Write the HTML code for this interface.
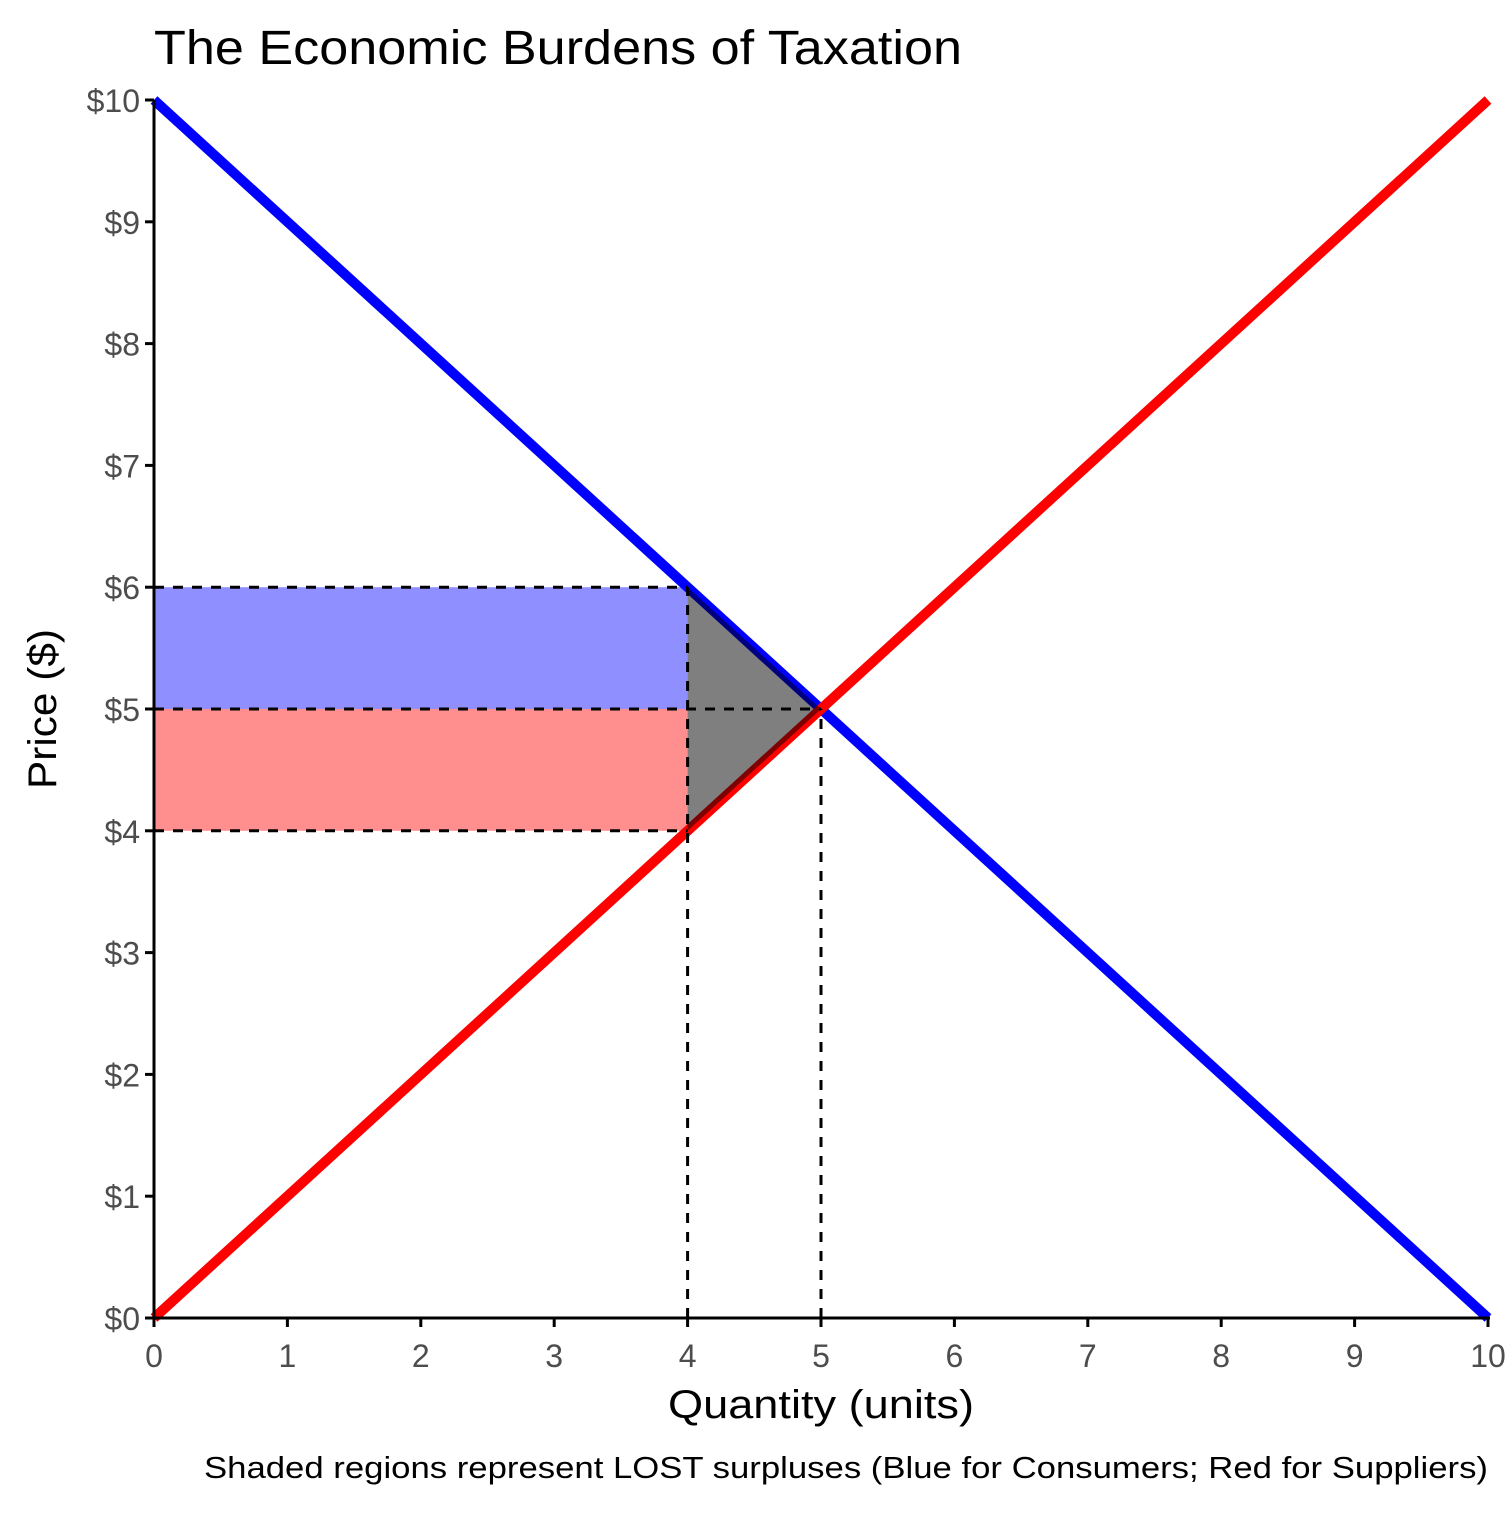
<!DOCTYPE html>
<html><head><meta charset="utf-8"><style>
body{margin:0;background:#fff}
svg text{font-family:"Liberation Sans",sans-serif}
</style></head><body>
<svg id="chart" width="1512" height="1512" xmlns="http://www.w3.org/2000/svg">
<rect width="1512" height="1512" fill="#fff"/>
<text x="154" y="64" font-size="48" fill="#000" textLength="808" lengthAdjust="spacingAndGlyphs">The Economic Burdens of Taxation</text>
<g id="marks"></g>
<g id="axes"></g>
<text x="821" y="1418" font-size="40" text-anchor="middle" textLength="306" lengthAdjust="spacingAndGlyphs">Quantity (units)</text>
<text transform="translate(56,709) rotate(-90)" font-size="40" text-anchor="middle" textLength="160" lengthAdjust="spacingAndGlyphs">Price ($)</text>
<text x="1488" y="1478" font-size="31" text-anchor="end" textLength="1284" lengthAdjust="spacingAndGlyphs">Shaded regions represent LOST surpluses (Blue for Consumers; Red for Suppliers)</text>
</svg>
<script>
const xTicks=[0,1,2,3,4,5,6,7,8,9,10];
const yTicks=[0,1,2,3,4,5,6,7,8,9,10];
const demandQ=[0,10]; const demandP=[10,0];
const supplyQ=[0,10]; const supplyP=[0,10];
const taxQ=4; const eqQ=5; const eqP=5; const buyerP=6; const sellerP=4;
const NS="http://www.w3.org/2000/svg";
const X=v=>154+v*133.4, Y=v=>1318-v*121.8;
const marks=document.getElementById('marks'), axes=document.getElementById('axes');
function mk(tag,attrs,parent){const e=document.createElementNS(NS,tag);for(const k in attrs)e.setAttribute(k,attrs[k]);parent.appendChild(e);return e;}
let e;
e=mk('line',{x1:X(demandQ[0]),y1:Y(demandP[0]),x2:X(demandQ[1]),y2:Y(demandP[1]),stroke:'#0000ff','stroke-width':10},marks);


e=mk('line',{x1:X(supplyQ[0]),y1:Y(supplyP[0]),x2:X(supplyQ[1]),y2:Y(supplyP[1]),stroke:'#ff0000','stroke-width':10},marks);


e=mk('rect',{x:X(0),y:Y(buyerP),width:X(taxQ)-X(0),height:Y(eqP)-Y(buyerP),fill:'#0000ff','fill-opacity':0.44},marks);


e=mk('rect',{x:X(0),y:Y(eqP),width:X(taxQ)-X(0),height:Y(sellerP)-Y(eqP),fill:'#ff0000','fill-opacity':0.44},marks);


e=mk('polygon',{points:`${X(taxQ)},${Y(buyerP)} ${X(taxQ)},${Y(sellerP)} ${X(eqQ)},${Y(eqP)}`,fill:'#000','fill-opacity':0.5},marks);


const dashes=[[0,buyerP,taxQ,buyerP],[0,eqP,eqQ,eqP],[0,sellerP,taxQ,sellerP],[taxQ,0,taxQ,buyerP],[eqQ,0,eqQ,eqP]];
dashes.forEach(d=>{e=mk('line',{x1:X(d[0]),y1:Y(d[1]),x2:X(d[2]),y2:Y(d[3]),stroke:'#000','stroke-width':3,'stroke-dasharray':'10,9'},marks);

});
e=mk('line',{x1:X(0),y1:Y(0),x2:X(10)+2,y2:Y(0),stroke:'#000','stroke-width':3},axes);


e=mk('line',{x1:X(0),y1:Y(0)+1.5,x2:X(0),y2:Y(10),stroke:'#000','stroke-width':3},axes);


xTicks.forEach(t=>{e=mk('line',{x1:X(t),y1:Y(0),x2:X(t),y2:Y(0)+9,stroke:'#000','stroke-width':3},axes);


e=mk('text',{x:X(t),y:1367,'font-size':32,'text-anchor':'middle',fill:'#4d4d4d'},axes);e.textContent=t;

});
yTicks.forEach(t=>{e=mk('line',{x1:X(0)-9,y1:Y(t),x2:X(0),y2:Y(t),stroke:'#000','stroke-width':3},axes);


e=mk('text',{x:140,y:Y(t)+12,'font-size':32,'text-anchor':'end',fill:'#4d4d4d'},axes);e.textContent='$'+t;

});
</script>
</body></html>
